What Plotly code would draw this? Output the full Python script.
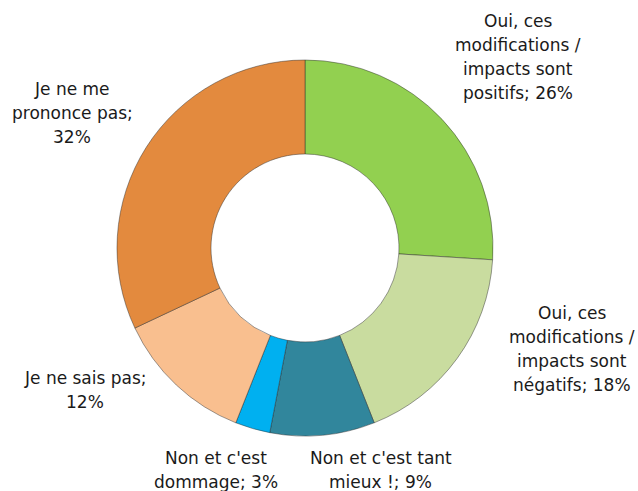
import plotly.graph_objects as go

categories = [
    "Oui, ces<br>modifications /<br>impacts sont<br>positifs",
    "Oui, ces<br>modifications /<br>impacts sont<br>négatifs",
    "Non et c'est tant<br>mieux !",
    "Non et c'est<br>dommage",
    "Je ne sais pas",
    "Je ne me<br>prononce pas",
]
values = [26, 18, 9, 3, 12, 32]
colors = ["#92D050", "#C9DC9F", "#31869C", "#00B0F0", "#F9BF8F", "#E38A3E"]
# where the percentage goes on its own line rather than after the label
pct_newline = [False, False, False, False, True, True]
# label block centres (pixels from top-left)
label_px = [(518, 57), (572, 349), (381, 470), (216, 470), (85, 390), (72, 113)]

W, H = 638, 491
cx, cy, r = 305, 248, 188
LINE = 24

fig = go.Figure()
fig.add_trace(go.Pie(
    values=values,
    labels=[c.replace("<br>", " ") for c in categories],
    marker=dict(colors=colors, line=dict(color="rgba(40,40,40,0.45)", width=1)),
    hole=0.5,
    sort=False,
    direction="clockwise",
    rotation=0,
    textinfo="none",
    hoverinfo="label+percent",
    domain=dict(x=[(cx - r) / W, (cx + r) / W], y=[(H - cy - r) / H, (H - cy + r) / H]),
    showlegend=False,
))

for cat, v, nl, (px, py) in zip(categories, values, pct_newline, label_px):
    lines = cat.split("<br>")
    if nl:
        lines[-1] = lines[-1] + ";"
        lines.append(f"{v}%")
    else:
        lines[-1] = f"{lines[-1]}; {v}%"
    n = len(lines)
    for i, ln in enumerate(lines):
        ly = py + (i - (n - 1) / 2) * LINE
        fig.add_annotation(
            text=ln, x=px / W, y=1 - ly / H, xref="paper", yref="paper",
            xanchor="center", yanchor="middle", showarrow=False, align="center",
            font=dict(family="DejaVu Sans", size=17, color="#1a1a1a"),
        )

fig.update_layout(
    width=W, height=H,
    margin=dict(l=0, r=0, t=0, b=0),
    paper_bgcolor="white", plot_bgcolor="white",
)

fig.write_html(
    "out.html",
    config={"displayModeBar": False},
    post_script="document.body.style.margin='0';document.body.style.overflow='hidden';",
)
